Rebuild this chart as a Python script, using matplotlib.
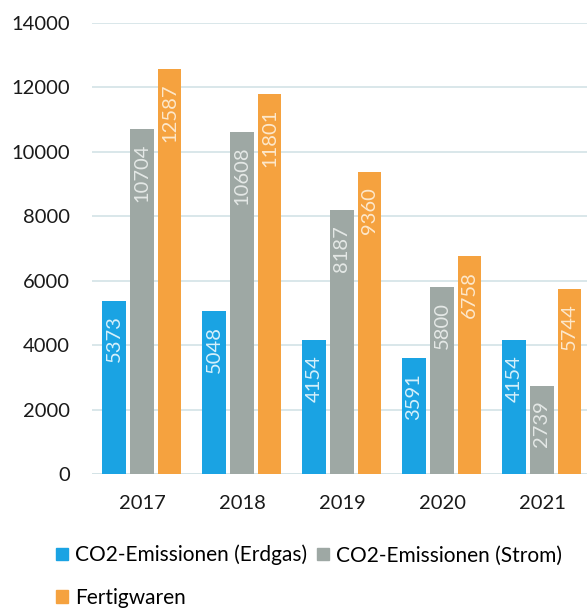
import numpy as np
import matplotlib.pyplot as plt
from matplotlib.patches import Patch

years = ['2017', '2018', '2019', '2020', '2021']
erdgas = [5373, 5048, 4154, 3591, 4154]
strom = [10704, 10608, 8187, 5800, 2739]
fertigwaren = [12587, 11801, 9360, 6758, 5744]

series = [
    ('CO2-Emissionen (Erdgas)', erdgas, '#1aa3e3', '#d6f0fb'),
    ('CO2-Emissionen (Strom)', strom, '#9ea8a4', '#e4e8e6'),
    ('Fertigwaren', fertigwaren, '#f5a23f', '#fde8cc'),
]

plt.rcParams['font.family'] = ['Lato', 'DejaVu Sans']

fig = plt.figure(figsize=(5.87, 6.08), dpi=100)
ax = fig.add_axes([92 / 587, 134 / 608, 495 / 587, 451 / 608])

x = np.arange(len(years))
offsets = [-0.28, 0.0, 0.275]
width = 0.235

for (name, vals, color, txtcolor), off in zip(series, offsets):
    bars = ax.bar(x + off, vals, width, color=color, label=name, zorder=3)
    for b, v in zip(bars, vals):
        ax.text(b.get_x() + b.get_width() / 2, v - 450, str(v),
                rotation=90, ha='center', va='top', fontsize=14.5,
                color=txtcolor, zorder=4)

ax.set_xlim(-0.5, 4.45)
ax.set_ylim(0, 14000)
ax.set_yticks(range(0, 14001, 2000))
ax.set_xticks(x)
ax.set_xticklabels(years)
ax.tick_params(axis='both', length=0, labelsize=14.5, colors='#1a1a1a')
ax.tick_params(axis='y', pad=16)
ax.tick_params(axis='x', pad=15)
ax.grid(axis='y', color='#d3e3e6', linewidth=1.2, zorder=0)
for s in ax.spines.values():
    s.set_visible(False)
ax.axhline(0, color='#d3e3e6', linewidth=1.2, zorder=1)

handles = [Patch(color=c) for _, _, c, _ in series]
labels = [n for n, _, _, _ in series]
order = [0, 2, 1]
fig.legend([handles[i] for i in order], [labels[i] for i in order],
           ncol=2, loc='upper left', bbox_to_anchor=(56 / 587, 0.104),
           frameon=False, fontsize=15, handlelength=0.58, handleheight=0.58,
           handletextpad=0.34, columnspacing=0.48, labelspacing=1.07,
           borderaxespad=0, borderpad=0)

fig.savefig('out.png', dpi=100)
